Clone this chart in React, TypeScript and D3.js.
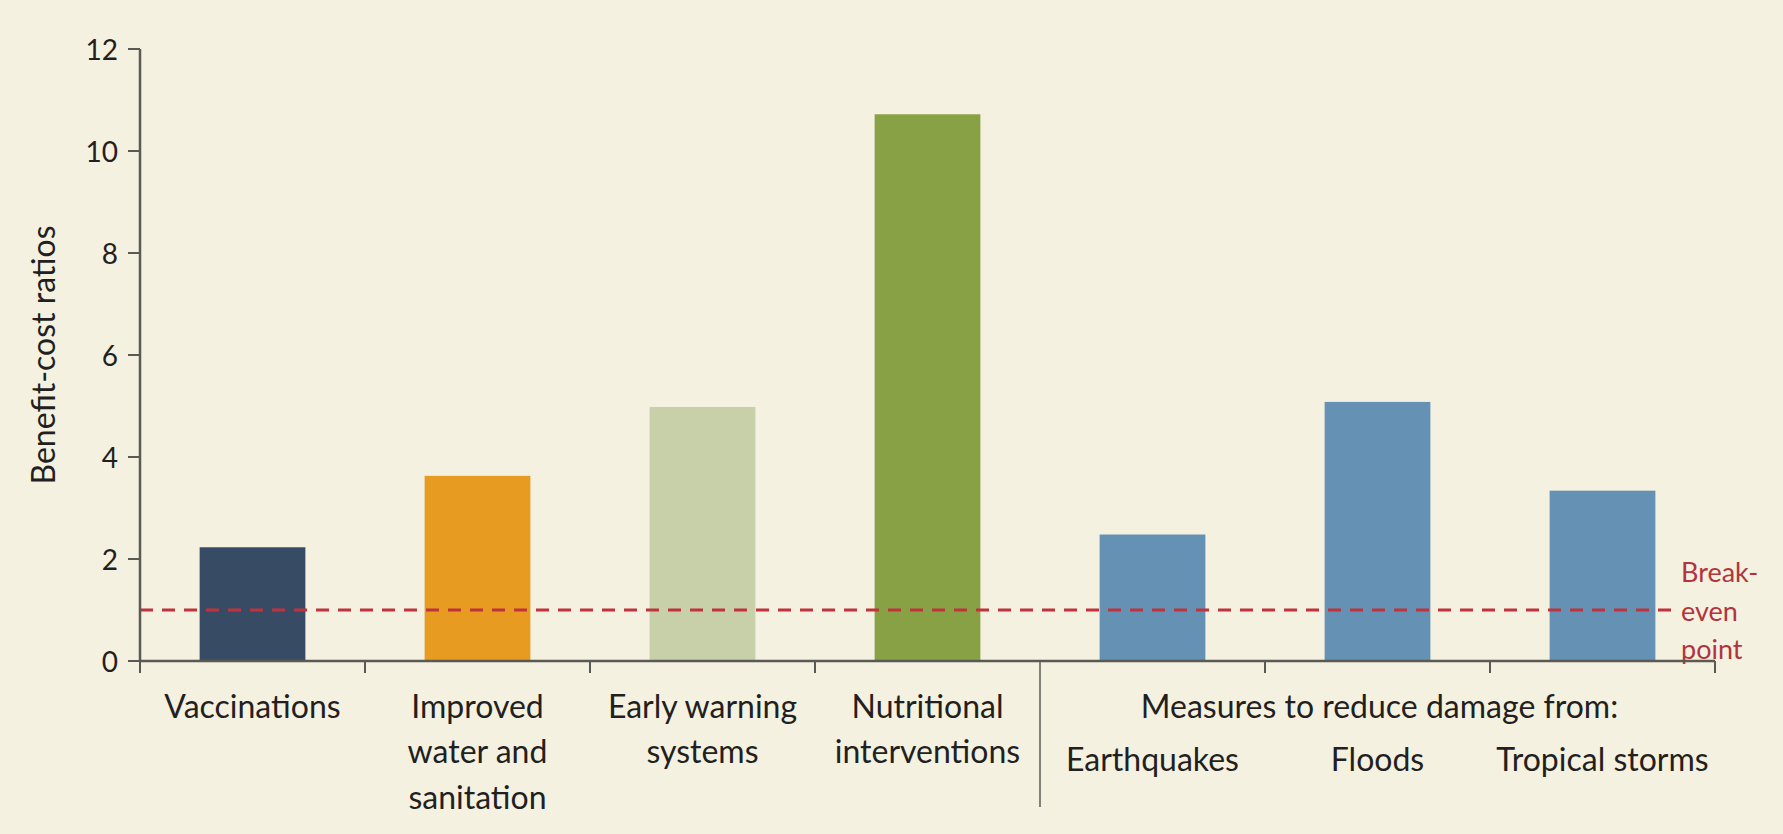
import React from "react";
import * as d3 from "d3";

// Benefit-cost ratios of disaster-risk and health interventions
const categories = [
  "Vaccinations",
  "Improved water and sanitation",
  "Early warning systems",
  "Nutritional interventions",
  "Earthquakes",
  "Floods",
  "Tropical storms",
];
const labelLines = [
  ["Vaccinations"],
  ["Improved", "water and", "sanitation"],
  ["Early warning", "systems"],
  ["Nutritional", "interventions"],
  ["Earthquakes"],
  ["Floods"],
  ["Tropical storms"],
];
const ratios = [2.23, 3.63, 4.98, 10.72, 2.48, 5.08, 3.34];
const barColors = ["#384b65", "#e79b20", "#c8d0a9", "#88a144", "#6491b4", "#6491b4", "#6491b4"];
const yTicks = [0, 2, 4, 6, 8, 10, 12];
const breakEven = 1;
const groupTitle = "Measures to reduce damage from:";
const groupStart = 4; // first category of the damage-reduction group
const yTitle = "Benefit-cost ratios";
const breakEvenLines = ["Break-", "even", "point"];

const W = 1783;
const H = 834;
const FONT = "Lato, 'Open Sans', sans-serif";

export default function App() {
  const x = d3
    .scaleBand<string>()
    .domain(categories)
    .range([140, 1715])
    .paddingInner(0.53)
    .paddingOuter(0.265);
  const y = d3.scaleLinear().domain([0, 12]).range([661, 49]);
  const step = x.step();
  const left = 140;
  const right = 1715;
  const base = y(0);
  const boundaries = d3.range(categories.length + 1).map((i) => left + i * step);
  const axisColor = "#5a5a55";
  const textColor = "#231f20";
  const redColor = "#b3343c";
  const beY = y(breakEven);

  return (
    <svg
      width={W}
      height={H}
      viewBox={`0 0 ${W} ${H}`}
      style={{ position: "absolute", left: 0, top: 0, background: "#f4f1e0" }}
    >
      <rect x={0} y={0} width={W} height={H} fill="#f4f1e0" />

      {/* bars */}
      {categories.map((c, i) => (
        <rect
          key={c}
          x={x(c)}
          y={y(ratios[i])}
          width={x.bandwidth()}
          height={base - y(ratios[i])}
          fill={barColors[i]}
        />
      ))}

      {/* break-even line and its label */}
      <line
        x1={left}
        x2={1672}
        y1={beY}
        y2={beY}
        stroke="#c0333d"
        strokeWidth={3}
        strokeDasharray="13 9"
      />
      {breakEvenLines.map((t, i) => (
        <text
          key={t}
          x={1681}
          y={beY + (i - 1) * 38.5}
          fill={redColor}
          fontFamily={FONT}
          fontSize={27}
          dominantBaseline="central"
        >
          {t}
        </text>
      ))}

      {/* y axis */}
      <line x1={left} x2={left} y1={y(12)} y2={base} stroke={axisColor} strokeWidth={2.5} />
      {yTicks.map((t) => (
        <g key={t}>
          <line x1={left - 12} x2={left} y1={y(t)} y2={y(t)} stroke={axisColor} strokeWidth={2} />
          <text
            x={left - 22}
            y={y(t)}
            textAnchor="end"
            dominantBaseline="central"
            fontFamily={FONT}
            fontSize={28}
            fill={textColor}
          >
            {t}
          </text>
        </g>
      ))}
      <text
        transform={`translate(42, ${355}) rotate(-90)`}
        textAnchor="middle"
        dominantBaseline="central"
        fontFamily={FONT}
        fontSize={32}
        fill={textColor}
      >
        {yTitle}
      </text>

      {/* x axis */}
      <line x1={left} x2={right} y1={base} y2={base} stroke={axisColor} strokeWidth={2.5} />
      {boundaries.map((bx, i) => (
        <line
          key={i}
          x1={bx}
          x2={bx}
          y1={base}
          y2={i === groupStart ? 807 : base + 12}
          stroke={axisColor}
          strokeWidth={i === groupStart ? 1.5 : 2}
        />
      ))}

      {/* category labels */}
      {categories.map((c, i) => {
        const cx = (x(c) as number) + x.bandwidth() / 2;
        const y0 = i >= groupStart ? 758 : 705;
        return (
          <text
            key={c}
            textAnchor="middle"
            fontFamily={FONT}
            fontSize={32}
            fill={textColor}
          >
            {labelLines[i].map((ln, j) => (
              <tspan key={j} x={cx} y={y0 + j * 45.5} dominantBaseline="central">
                {ln}
              </tspan>
            ))}
          </text>
        );
      })}
      <text
        x={(boundaries[groupStart] + right) / 2 + 2}
        y={705}
        textAnchor="middle"
        dominantBaseline="central"
        fontFamily={FONT}
        fontSize={32}
        fill={textColor}
      >
        {groupTitle}
      </text>
    </svg>
  );
}
